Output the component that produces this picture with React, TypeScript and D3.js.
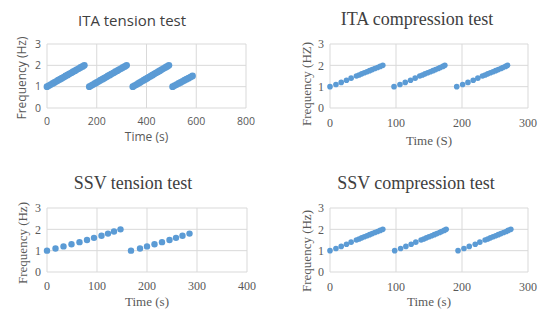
import React from "react";
import * as d3 from "d3";

const W = 542;
const H = 310;
const dotColor = "#5b9bd5";
const gridColor = "#d9d9d9";
const textColor = "#595959";

// ITA tension test
const itaTensionTime = [
  0, 8, 15, 23, 30, 38, 45, 53, 60, 68, 75, 83, 90, 98, 105, 113, 120, 128, 135, 143, 150,
  170, 178, 185, 193, 200, 208, 215, 223, 230, 238, 245, 253, 260, 268, 275, 283, 290, 298, 305, 313, 320,
  345, 352, 360, 367, 374, 381, 389, 396, 403, 410, 418, 425, 432, 439, 447, 454, 461, 468, 476, 483, 490,
  505, 513, 521, 529, 537, 545, 553, 561, 569, 577, 585,
];
const itaTensionFreq = [
  1.0, 1.05, 1.1, 1.15, 1.2, 1.25, 1.3, 1.35, 1.4, 1.45, 1.5, 1.55, 1.6, 1.65, 1.7, 1.75, 1.8, 1.85, 1.9, 1.95, 2.0,
  1.0, 1.05, 1.1, 1.15, 1.2, 1.25, 1.3, 1.35, 1.4, 1.45, 1.5, 1.55, 1.6, 1.65, 1.7, 1.75, 1.8, 1.85, 1.9, 1.95, 2.0,
  1.0, 1.05, 1.1, 1.15, 1.2, 1.25, 1.3, 1.35, 1.4, 1.45, 1.5, 1.55, 1.6, 1.65, 1.7, 1.75, 1.8, 1.85, 1.9, 1.95, 2.0,
  1.0, 1.05, 1.1, 1.15, 1.2, 1.25, 1.3, 1.35, 1.4, 1.45, 1.5,
];

// ITA compression test
const itaCompTime = [
  0, 9, 17, 25, 32, 40, 44, 48, 52, 56, 60, 64, 68, 72, 76, 80,
  97, 106, 114, 122, 129, 136, 140, 144, 148, 152, 156, 160, 164, 167, 171, 174,
  192, 201, 209, 217, 224, 231, 235, 239, 243, 247, 251, 255, 259, 262, 266, 269,
];
const itaCompFreq = [
  1.0, 1.1, 1.2, 1.3, 1.4, 1.5, 1.55, 1.6, 1.65, 1.7, 1.75, 1.8, 1.85, 1.9, 1.95, 2.0,
  1.0, 1.1, 1.2, 1.3, 1.4, 1.5, 1.55, 1.6, 1.65, 1.7, 1.75, 1.8, 1.85, 1.9, 1.95, 2.0,
  1.0, 1.1, 1.2, 1.3, 1.4, 1.5, 1.55, 1.6, 1.65, 1.7, 1.75, 1.8, 1.85, 1.9, 1.95, 2.0,
];

// SSV tension test
const ssvTensionTime = [0, 17, 33, 49, 65, 80, 94, 109, 122, 134, 147, 168, 186, 200, 215, 230, 245, 258, 271, 285];
const ssvTensionFreq = [1.0, 1.1, 1.2, 1.3, 1.4, 1.5, 1.6, 1.7, 1.8, 1.9, 2.0, 1.0, 1.1, 1.2, 1.3, 1.4, 1.5, 1.6, 1.7, 1.8];

// SSV compression test
const ssvCompTime = [
  0, 9, 17, 25, 32, 40, 44, 48, 52, 56, 60, 64, 68, 72, 76, 80,
  98, 107, 115, 123, 130, 138, 142, 146, 150, 154, 158, 162, 166, 169, 173, 176,
  194, 203, 211, 220, 227, 235, 239, 243, 247, 251, 255, 259, 263, 267, 270, 274,
];
const ssvCompFreq = [
  1.0, 1.1, 1.2, 1.3, 1.4, 1.5, 1.55, 1.6, 1.65, 1.7, 1.75, 1.8, 1.85, 1.9, 1.95, 2.0,
  1.0, 1.1, 1.2, 1.3, 1.4, 1.5, 1.55, 1.6, 1.65, 1.7, 1.75, 1.8, 1.85, 1.9, 1.95, 2.0,
  1.0, 1.1, 1.2, 1.3, 1.4, 1.5, 1.55, 1.6, 1.65, 1.7, 1.75, 1.8, 1.85, 1.9, 1.95, 2.0,
];

const yTicks = [0, 1, 2, 3];
const xTicks800 = [0, 200, 400, 600, 800];
const xTicks300 = [0, 100, 200, 300];
const xTicks400 = [0, 100, 200, 300, 400];

const sans = "'Open Sans', Lato, sans-serif";
const serif = "'Liberation Serif', serif";

type PanelProps = {
  title: string;
  yLabel: string;
  xLabel: string;
  time: number[];
  freq: number[];
  xTicks: number[];
  left: number;
  right: number;
  top: number;
  bottom: number;
  r: number;
  titleFont: string;
  font: string;
  titleSize: number;
  tickSize: number;
  labelSize: number;
  titleX: number;
  titleY: number;
  yLabelX: number;
  yLabelY: number;
  xLabelY: number;
  xTickY: number;
};

function Panel(p: PanelProps) {
  const x = d3.scaleLinear().domain([p.xTicks[0], p.xTicks[p.xTicks.length - 1]]).range([p.left, p.right]);
  const y = d3.scaleLinear().domain([0, 3]).range([p.bottom, p.top]);
  return (
    <g>
      {yTicks.map((t) => (
        <line key={"h" + t} x1={p.left} x2={p.right} y1={y(t)} y2={y(t)} stroke={gridColor} strokeWidth={1} />
      ))}
      {p.xTicks.map((t) => (
        <line key={"v" + t} x1={x(t)} x2={x(t)} y1={p.top} y2={p.bottom} stroke={gridColor} strokeWidth={1} />
      ))}
      {yTicks.map((t) => (
        <text key={"yl" + t} x={p.left - 6} y={y(t)} dy="0.35em" textAnchor="end" fontSize={p.tickSize} fill={textColor} fontFamily={p.font}>
          {t}
        </text>
      ))}
      {p.xTicks.map((t) => (
        <text key={"xl" + t} x={x(t)} y={p.xTickY} dy="0.35em" textAnchor="middle" fontSize={p.tickSize} fill={textColor} fontFamily={p.font}>
          {t}
        </text>
      ))}
      {p.time.map((t, i) => (
        <circle key={"c" + i} cx={x(t)} cy={y(p.freq[i])} r={p.r} fill={dotColor} />
      ))}
      <text x={p.titleX} y={p.titleY} dy="0.35em" textAnchor="middle" fontSize={p.titleSize} fill="#404040" fontFamily={p.titleFont}>
        {p.title}
      </text>
      <text
        transform={`translate(${p.yLabelX},${p.yLabelY}) rotate(-90)`}
        dy="0.35em"
        textAnchor="middle"
        fontSize={p.labelSize}
        fill={textColor}
        fontFamily={p.font}
      >
        {p.yLabel}
      </text>
      <text x={(p.left + p.right) / 2} y={p.xLabelY} dy="0.35em" textAnchor="middle" fontSize={p.labelSize} fill={textColor} fontFamily={p.font}>
        {p.xLabel}
      </text>
    </g>
  );
}

export default function App() {
  return (
    <svg width={W} height={H} style={{ position: "absolute", left: 0, top: 0, background: "#fff" }}>
      <Panel
        title="ITA tension test" yLabel="Frequency (Hz)" xLabel="Time (s)"
        time={itaTensionTime} freq={itaTensionFreq} xTicks={xTicks800}
        left={47} right={246} top={44} bottom={108} r={3.4}
        titleFont={sans} font={sans} titleSize={15} tickSize={10.5} labelSize={12}
        titleX={132} titleY={21} yLabelX={22} yLabelY={78} xLabelY={137} xTickY={121}
      />
      <Panel
        title="ITA compression test" yLabel="Frequency (HZ)" xLabel="Time (S)"
        time={itaCompTime} freq={itaCompFreq} xTicks={xTicks300}
        left={330} right={528} top={44} bottom={108} r={2.8}
        titleFont={serif} font={serif} titleSize={18} tickSize={12} labelSize={13}
        titleX={417} titleY={19} yLabelX={306} yLabelY={84} xLabelY={140} xTickY={123}
      />
      <Panel
        title="SSV tension test" yLabel="Frequency (Hz)" xLabel="Time (s)"
        time={ssvTensionTime} freq={ssvTensionFreq} xTicks={xTicks400}
        left={47} right={247} top={208} bottom={272} r={3.2}
        titleFont={serif} font={serif} titleSize={18} tickSize={12} labelSize={13}
        titleX={133} titleY={183} yLabelX={22} yLabelY={243} xLabelY={301} xTickY={286}
      />
      <Panel
        title="SSV compression test" yLabel="Frequency (Hz)" xLabel="Time (s)"
        time={ssvCompTime} freq={ssvCompFreq} xTicks={xTicks300}
        left={330} right={528} top={208} bottom={272} r={2.8}
        titleFont={serif} font={serif} titleSize={18} tickSize={12} labelSize={13}
        titleX={416} titleY={183} yLabelX={306} yLabelY={251} xLabelY={301} xTickY={287}
      />
    </svg>
  );
}
